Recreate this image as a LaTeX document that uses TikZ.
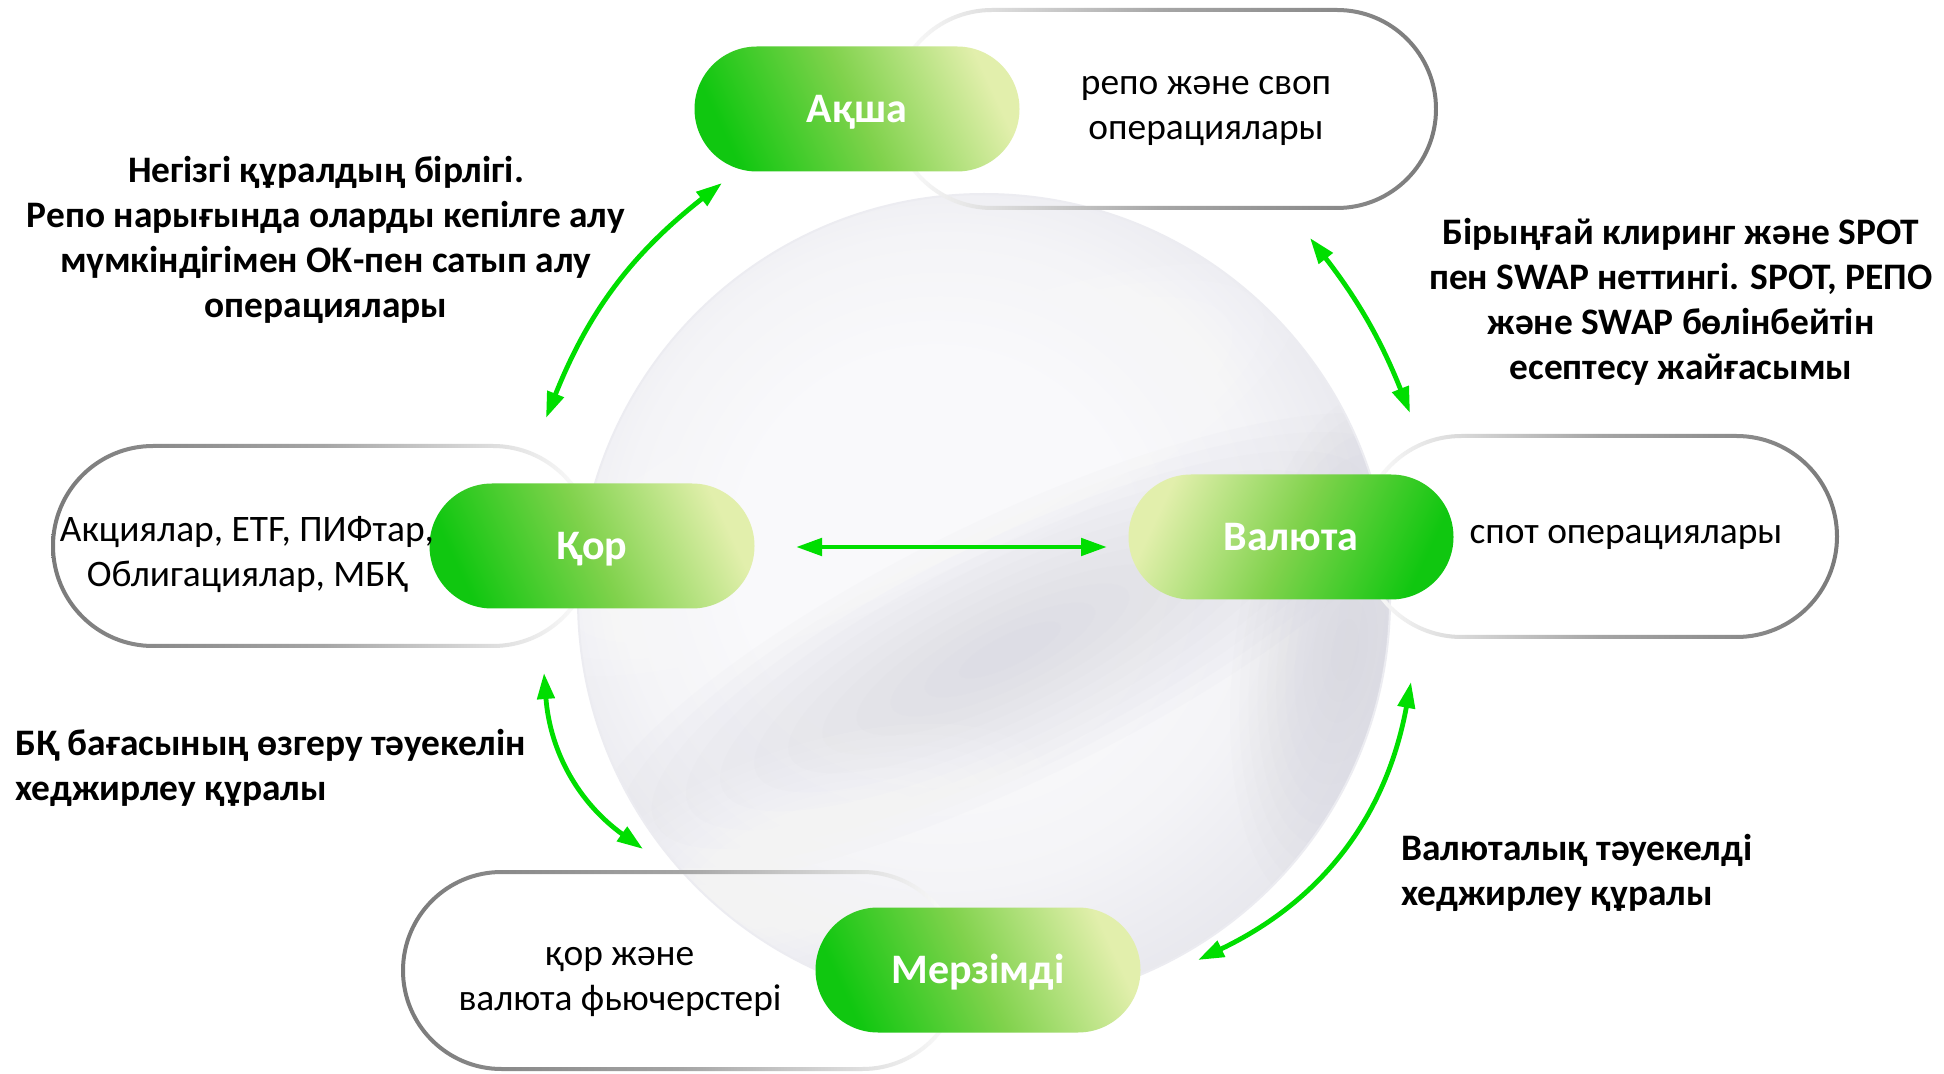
\documentclass[tikz,border=0pt]{standalone}
\usepackage{fontspec}
\setmainfont{Carlito}
\usetikzlibrary{shapes.misc,arrows.meta,calc}

\definecolor{gdark}{RGB}{16,199,16}
\definecolor{gmid}{RGB}{128,210,76}
\definecolor{glight}{RGB}{226,239,172}
\definecolor{arrowgreen}{RGB}{0,222,0}
\definecolor{ringdark}{RGB}{122,122,122}
\definecolor{ringmid}{RGB}{165,165,165}
\definecolor{sphA}{RGB}{249,249,251}
\definecolor{sphB}{RGB}{244,244,247}
\definecolor{sphC}{RGB}{236,236,241}
\definecolor{sphD}{RGB}{230,230,236}
\definecolor{bandgray}{RGB}{205,205,215}

\pgfdeclareradialshading{sphereshade}{\pgfpoint{-4bp}{4bp}}{color(0bp)=(sphA); color(12bp)=(sphA); color(20bp)=(sphB); color(25bp)=(sphC); color(29bp)=(sphD); color(50bp)=(sphD)}

\newcommand\PillRing[5]{%
  \pgfmathsetmacro\ringro{(#5-#3)/4+1}%
  \pgfmathsetmacro\ringri{(#5-#3)/4-1}%
  \shade[#1, even odd rule] [rounded corners=\ringro pt] (#2-2,#3-2) rectangle (#4+2,#5+2)
     [rounded corners=\ringri pt] (#2+2,#3+2) rectangle (#4-2,#5-2);%
}
% soft blob: colour, opacity step, centre x, centre y, rx, ry, angle
\newcommand\SoftBlob[7]{%
  \foreach \k in {0,...,11}{%
    \fill[#1, opacity=#2, rotate around={#7:(#3,#4)}]
      (#3,#4) ellipse[x radius={#5*(1-\k/12.5)}, y radius={#6*(1-\k/12.5)}];%
  }%
}

\begin{document}
\begin{tikzpicture}[x=0.5pt,y=-0.5pt,
  pill/.style={rounded rectangle, minimum width=162.5pt, minimum height=62.5pt, inner sep=0pt,
    text=white, text height=13.3pt, text depth=0pt, font=\fontsize{21}{25}\selectfont\bfseries},
  pillR/.style={pill, top color=glight, bottom color=gdark, middle color=gmid, shading angle=-65},
  pillL/.style={pill, top color=glight, bottom color=gdark, middle color=gmid, shading angle=65},
  lbl/.style={font=\fontsize{18.7}{22.5}\selectfont\bfseries, align=center, inner sep=0pt},
  desc/.style={font=\fontsize{18.7}{22.5}\selectfont, align=center, inner sep=0pt},
  link/.style={draw=arrowgreen, line width=2.4pt,
    arrows={Triangle[length=13pt,width=8.5pt]-Triangle[length=13pt,width=8.5pt]}},
]
\fill[white] (0,0) rectangle (1944,1074);
\useasboundingbox (0,0) rectangle (1944,1074);

% background sphere
\shade[shading=sphereshade] (984,600) circle[radius=203pt];
\begin{scope}
  \clip (984,600) circle[radius=203pt];
  \SoftBlob{bandgray}{0.06}{1010}{650}{470}{130}{26}
  \SoftBlob{white}{0.10}{900}{470}{430}{120}{24}
  \SoftBlob{bandgray}{0.05}{1345}{650}{110}{260}{-8}
  \SoftBlob{white}{0.08}{800}{860}{260}{110}{20}
\end{scope}
\draw[sphC, line width=1pt] (984,600) circle[radius=203pt];

% outline rings
\PillRing{left color=white, right color=ringdark, middle color=ringmid}{893}{10}{1436}{208}
\PillRing{left color=ringdark, right color=white, middle color=ringmid}{53}{446}{593}{646}
\PillRing{left color=white, right color=ringdark, middle color=ringmid}{1361}{436}{1837}{637}
\PillRing{left color=ringdark, right color=white, middle color=ringmid}{403}{872}{961}{1069}

% pills
\node[pillR] (aksha) at (857,109) {Ақша};
\node[pillR] (qor) at (592,546) {Қор};
\node[pillL] (valyuta) at (1291,537) {Валюта};
\node[pillR] (merzimdi) at (978,970) {Мерзімді};

% descriptions
\node[desc] (akshaD) at (1206,111) {репо және своп\\операциялары};
\node[desc] (qorD) at (247,555) {Акциялар, ETF, ПИФтар,\\Облигациялар, МБҚ};
\node[desc] (valD) at (1626,537) {спот операциялары};
\node[desc] (merD) at (620,982) {қор және\\валюта фьючерстері};

% labels
\node[lbl] (l1) at (326,240) {Негізгі құралдың бірлігі.\\Репо нарығында оларды кепілге алу\\мүмкіндігімен ОК-пен сатып алу\\операциялары};
\node[lbl] (l2) at (1681,302) {Бірыңғай клиринг және SPOT\\пен SWAP неттингі. SPOT, РЕПО\\және SWAP бөлінбейтін\\есептесу жайғасымы};
\node[lbl, align=left, anchor=west] (l3) at (15,768) {БҚ бағасының өзгеру тәуекелін\\хеджирлеу құралы};
\node[lbl, align=left, anchor=west] (l4) at (1401,873) {Валюталық тәуекелді\\хеджирлеу құралы};

% connector ends
\coordinate (ak1) at (722,183);
\coordinate (qo1) at (546,418);
\coordinate (ak2) at (1310,238);
\coordinate (va1) at (1410,413);
\coordinate (qo2) at (796,547);
\coordinate (va2) at (1107,547);
\coordinate (qo3) at (544,673);
\coordinate (me1) at (643,849);
\coordinate (va3) at (1411,682);
\coordinate (me2) at (1198,960);

\draw[link] (ak1) to[bend right=15] (qo1);
\draw[link] (ak2) to[bend left=8] (va1);
\draw[link] (qo2) -- (va2);
\draw[link] (qo3) to[bend right=25] (me1);
\draw[link] (va3) to[bend left=27] (me2);
\end{tikzpicture}
\end{document}
